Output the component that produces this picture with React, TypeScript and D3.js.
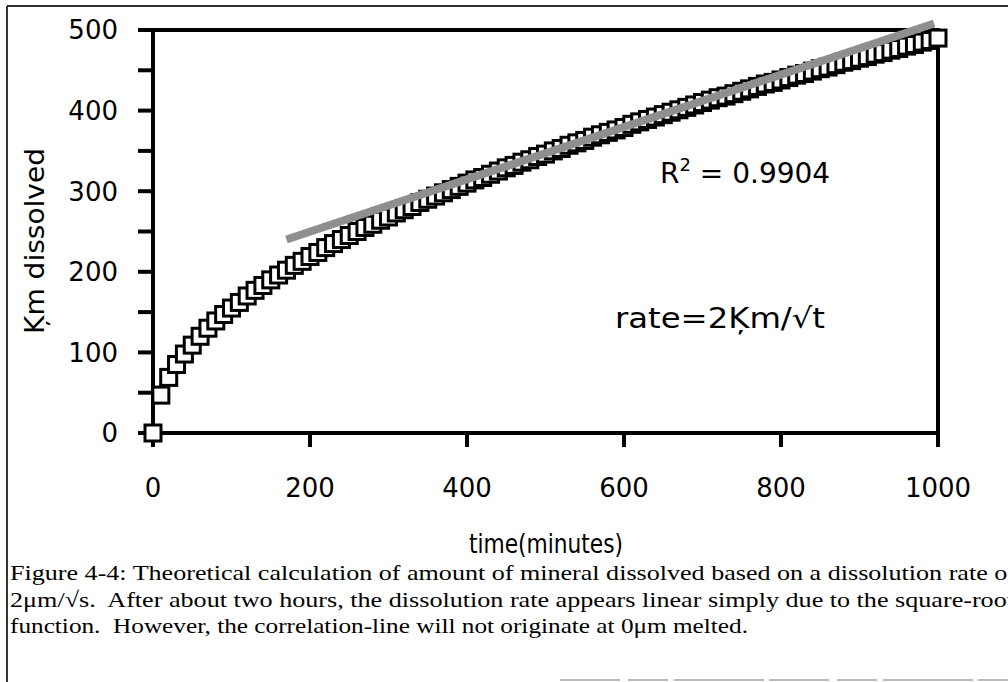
import React from "react";
import * as d3 from "d3";

const times: number[] = d3.range(0, 1001, 10);
const dissolved: number[] = [
  0, 47, 69, 85, 98, 109, 120, 130, 139, 147,
  155, 162, 170, 177, 183, 190, 196, 202, 208, 213,
  219, 224, 230, 235, 240, 245, 250, 255, 259, 264,
  268, 273, 277, 281, 286, 290, 294, 298, 302, 306,
  310, 314, 317, 321, 325, 329, 332, 336, 339, 343,
  346, 350, 353, 357, 360, 363, 367, 370, 373, 376,
  379, 383, 386, 389, 392, 395, 398, 401, 404, 407,
  410, 413, 416, 418, 421, 424, 427, 430, 433, 435,
  438, 441, 444, 446, 449, 452, 454, 457, 460, 462,
  465, 467, 470, 472, 475, 477, 480, 482, 485, 487,
  490,
];
const trendX: number[] = [170, 995];
const trendY: number[] = [240, 508];
const xTickValues: number[] = [0, 200, 400, 600, 800, 1000];
const yTickValues: number[] = [0, 100, 200, 300, 400, 500];
const yMinorTicks: number[] = [0, 50, 100, 150, 200, 250, 300, 350, 400, 450, 500];
const captionLines: string[] = [
  "Figure 4-4: Theoretical calculation of amount of mineral dissolved based on a dissolution rate of",
  "2\u03bcm/\u221as.  After about two hours, the dissolution rate appears linear simply due to the square-root",
  "function.  However, the correlation-line will not originate at 0\u03bcm melted.",
];
const captionWidths: number[] = [1006, 1004, 738];

export default function App() {
  const W = 1008;
  const H = 682;
  const x = d3.scaleLinear().domain([0, 1000]).range([153, 938]);
  const y = d3.scaleLinear().domain([0, 500]).range([433, 30]);
  const sans = "'DejaVu Sans', sans-serif";
  const line = d3.line<[number, number]>().x((d) => x(d[0])).y((d) => y(d[1]));
  const trendPts: [number, number][] = trendX.map((t, i) => [t, trendY[i]]);
  const ms = 16;
  return (
    <svg width={W} height={H} style={{ position: "absolute", left: 0, top: 0, background: "#fff" }}>
      {/* outer frame */}
      <line x1={7} y1={6} x2={W} y2={6} stroke="#333" strokeWidth={2} />
      <line x1={7} y1={6} x2={7} y2={H} stroke="#333" strokeWidth={2} />
      <line x1={560} y1={680} x2={W} y2={680} stroke="#bbb" strokeWidth={2} strokeDasharray="60 8 40 6 90 5" />

      {/* plot frame */}
      <line x1={x(0)} y1={y(0)} x2={x(1000)} y2={y(0)} stroke="#000" strokeWidth={4} />
      <line x1={x(0)} y1={y(0)} x2={x(0)} y2={y(500)} stroke="#000" strokeWidth={4} />
      <line x1={x(0)} y1={y(500)} x2={x(1000)} y2={y(500)} stroke="#000" strokeWidth={4} />
      <line x1={x(1000)} y1={y(500) - 2} x2={x(1000)} y2={y(0)} stroke="#000" strokeWidth={4} />

      {/* y ticks */}
      {yMinorTicks.map((v) => (
        <line key={"yt" + v} x1={x(0) - 15} x2={x(0)} y1={y(v)} y2={y(v)} stroke="#000" strokeWidth={4} />
      ))}
      {yTickValues.map((v) => (
        <text key={"yl" + v} x={118} y={y(v)} dy="0.36em" textAnchor="end" fontFamily={sans} fontSize={26} fill="#000">
          {v}
        </text>
      ))}
      {/* x ticks */}
      {xTickValues.map((v) => (
        <line key={"xt" + v} x1={x(v)} x2={x(v)} y1={y(0)} y2={y(0) + 14} stroke="#000" strokeWidth={4} />
      ))}
      {xTickValues.map((v) => (
        <text key={"xl" + v} x={x(v)} y={497} textAnchor="middle" fontFamily={sans} fontSize={26} fill="#000">
          {v}
        </text>
      ))}

      {/* axis titles */}
      <text x={546} y={553} textAnchor="middle" fontFamily={sans} fontSize={26} fill="#000" textLength={154} lengthAdjust="spacingAndGlyphs">
        time(minutes)
      </text>
      <text transform={`translate(44,241) rotate(-90)`} textAnchor="middle" fontFamily={sans} fontSize={26} fill="#000" textLength={186} lengthAdjust="spacingAndGlyphs">
        {"\u0136m dissolved"}
      </text>

      {/* markers */}
      {times.map((t, i) => (
        <rect
          key={"m" + t}
          x={x(t) - ms / 2}
          y={y(dissolved[i]) - ms / 2}
          width={ms}
          height={ms}
          fill="#fff"
          stroke="#000"
          strokeWidth={3}
        />
      ))}

      {/* trend line */}
      <path d={line(trendPts) || ""} stroke="#8f8f8f" strokeWidth={8} fill="none" />

      {/* annotations */}
      <text x={660} y={183} fontFamily={sans} fontSize={28} fill="#000" style={{ whiteSpace: "pre" }}>
        R<tspan dy={-12} fontSize={18}>2</tspan>
        <tspan dy={12}>{" = 0.9904"}</tspan>
      </text>
      <text x={615} y={328} fontFamily={sans} fontSize={28} fill="#000" textLength={210} lengthAdjust="spacingAndGlyphs">
        {"rate=2\u0136m/\u221at"}
      </text>

      {/* caption */}
      {captionLines.map((s, i) => (
        <text
          key={"c" + i}
          x={10}
          y={580 + i * 26.5}
          fontFamily="'Liberation Serif', 'Times New Roman', serif"
          fontSize={22}
          fill="#000"
          style={{ whiteSpace: "pre" }}
          textLength={captionWidths[i]}
          lengthAdjust="spacingAndGlyphs"
        >
          {s}
        </text>
      ))}
    </svg>
  );
}
